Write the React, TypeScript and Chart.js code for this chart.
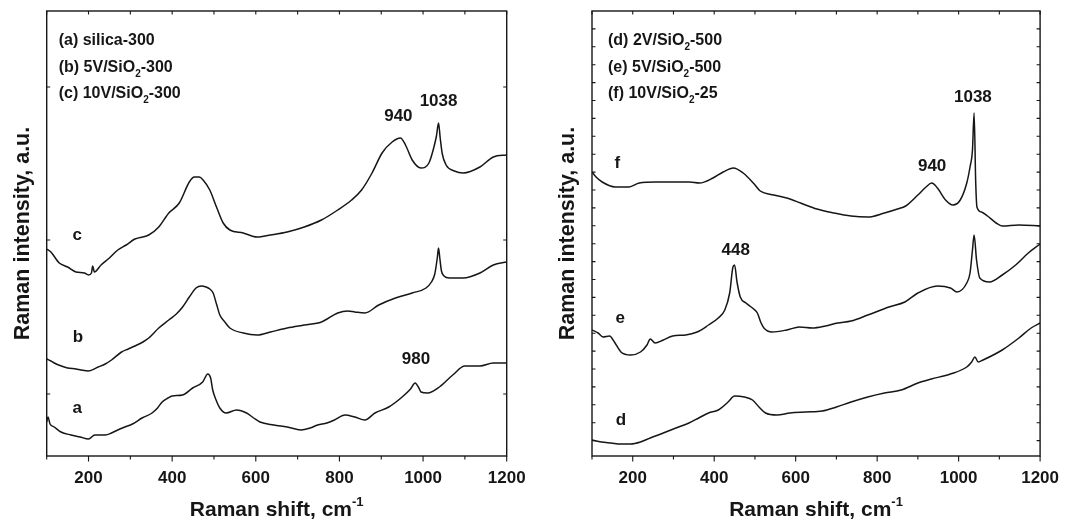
import React, { useEffect, useRef } from "react";
import { Chart, registerables } from "chart.js";

Chart.register(...registerables);

const FONT = '"Liberation Sans", Arial, Helvetica, sans-serif';
const INK = "#161616";

// ---------- Left panel (a, b, c) ----------
const aX = [100, 103, 108, 118, 134, 158, 180, 200, 215, 223, 240, 255, 270, 287, 305, 328, 352, 365, 376, 390, 400, 425, 449, 473, 485, 492, 497, 505, 514, 529, 554, 578, 595, 610, 643, 675, 708, 730, 748, 770, 788, 813, 837, 861, 885, 918, 950, 970, 981, 990, 995, 1011, 1039, 1071, 1100, 1136, 1168, 1200];
const aY = [34, 39, 32, 29, 24, 21, 19, 17, 21, 21, 21, 23, 26, 29, 32, 38, 43, 48, 54, 58, 60, 61, 68, 74, 82, 78, 66, 56, 48, 43, 46, 43, 38, 34, 31, 29, 26, 28, 31, 33, 36, 41, 39, 36, 43, 49, 59, 67, 73, 68, 64, 63, 69, 81, 90, 90, 93, 93];

const bX = [100, 110, 118, 135, 150, 170, 182, 200, 223, 240, 255, 279, 295, 311, 330, 344, 368, 392, 410, 425, 441, 457, 470, 481, 490, 498, 506, 514, 526, 538, 570, 603, 635, 675, 716, 757, 796, 820, 837, 861, 894, 934, 974, 1007, 1020, 1028, 1034, 1037, 1040, 1044, 1050, 1063, 1096, 1136, 1168, 1200];
const bY = [97, 95, 93, 90, 88, 87, 86, 85, 89, 92, 96, 104, 107, 110, 114, 118, 128, 136, 142, 149, 159, 168, 170, 169, 167, 163, 152, 141, 134, 128, 123, 121, 124, 128, 131, 134, 143, 145, 144, 143, 151, 158, 163, 168, 174, 182, 198, 208, 198, 185, 180, 178, 178, 183, 191, 194];

const cX = [100, 110, 130, 150, 170, 190, 200, 207, 210, 214, 230, 250, 270, 290, 311, 344, 368, 392, 417, 441, 453, 465, 474, 490, 506, 522, 538, 570, 603, 635, 675, 716, 757, 796, 829, 853, 878, 902, 926, 946, 958, 974, 995, 1014, 1026, 1032, 1037, 1041, 1046, 1055, 1075, 1096, 1136, 1168, 1200];
const cY = [207, 204, 193, 189, 184, 183, 181, 183, 190, 184, 191, 198, 206, 211, 217, 221, 229, 243, 253, 274, 279, 279, 276, 266, 249, 233, 226, 223, 219, 221, 224, 229, 236, 246, 256, 266, 283, 303, 314, 318, 311, 296, 288, 293, 309, 320, 333, 318, 302, 291, 285, 283, 289, 299, 301];

// ---------- Right panel (d, e, f) ----------
const dX = [100, 123, 147, 171, 195, 219, 243, 275, 306, 338, 362, 386, 410, 434, 450, 474, 494, 510, 526, 554, 586, 625, 665, 700, 736, 777, 818, 859, 900, 933, 980, 1020, 1032, 1040, 1048, 1060, 1107, 1148, 1178, 1200];
const dY = [16, 14, 13, 12, 12, 14, 18, 23, 28, 33, 38, 43, 46, 54, 60, 59, 56, 49, 43, 41, 43, 44, 45, 49, 54, 59, 63, 66, 73, 77, 82, 89, 94, 99, 94, 96, 106, 118, 128, 133];

const eX = [100, 115, 127, 143, 155, 171, 195, 219, 235, 243, 255, 275, 298, 330, 358, 386, 410, 426, 438, 446, 450, 456, 464, 478, 494, 506, 514, 522, 542, 578, 609, 641, 673, 703, 736, 777, 829, 868, 900, 948, 980, 996, 1020, 1028, 1034, 1038, 1044, 1052, 1076, 1107, 1140, 1171, 1200];
const eY = [126, 123, 119, 120, 114, 104, 101, 104, 111, 117, 113, 116, 120, 121, 124, 131, 138, 146, 163, 189, 191, 174, 159, 153, 148, 143, 134, 128, 124, 126, 129, 128, 130, 133, 135, 141, 149, 154, 163, 170, 168, 164, 173, 183, 206, 221, 196, 178, 174, 181, 191, 203, 212];

const fX = [100, 110, 125, 157, 191, 216, 257, 298, 339, 364, 397, 422, 447, 471, 496, 513, 546, 578, 612, 652, 694, 736, 777, 818, 850, 870, 900, 920, 934, 948, 968, 986, 1004, 1020, 1028, 1034, 1038, 1042, 1045, 1056, 1071, 1092, 1107, 1148, 1200];
const fY = [284, 279, 274, 269, 269, 273, 274, 274, 274, 273, 278, 284, 288, 283, 273, 265, 261, 258, 253, 247, 243, 240, 239, 243, 247, 250, 261, 269, 273, 268, 256, 251, 256, 273, 289, 306, 343, 273, 249, 244, 240, 233, 230, 231, 230];

// ---------- Axes ----------
const xMin = 100;
const xMax = 1200;
const xStep = 100;
const yMin = 0;
const yMax = 445;
const leftYTicks = [62, 216, 369];
const rightYTickStart = 15.4;
const rightYTickStep = 17.9;

const yTitle = "Raman intensity, a.u.";
const xTitle = "Raman shift, cm";
const xTitleSup = "-1";

// ---------- Annotations ----------
const leftLegend = [["(a) silica-300"], ["(b) 5V/SiO", "2", "-300"], ["(c) 10V/SiO", "2", "-300"]];
const rightLegend = [["(d) 2V/SiO", "2", "-500"], ["(e) 5V/SiO", "2", "-500"], ["(f) 10V/SiO", "2", "-25"]];

const leftLabelText = ["c", "b", "a", "940", "1038", "980"];
const leftLabelX = [173, 175, 173, 941, 1037, 983];
const leftLabelY = [221, 119, 48, 340, 355, 97];

const rightLabelText = ["f", "e", "d", "448", "940", "1038"];
const rightLabelX = [162, 169, 171, 453, 935, 1035];
const rightLabelY = [293, 138, 36, 206, 290, 359];

type Rich = string[];

function drawRich(ctx: CanvasRenderingContext2D, segs: Rich, x: number, baseY: number, size: number, mode: "sub" | "sup", align: "left" | "center") {
  const big = `bold ${size}px ${FONT}`;
  const small = `bold ${Math.round(size * 0.62)}px ${FONT}`;
  let total = 0;
  segs.forEach((s, i) => {
    ctx.font = i % 2 === 0 ? big : small;
    total += ctx.measureText(s).width;
  });
  let cx = align === "center" ? x - total / 2 : x;
  ctx.textAlign = "left";
  ctx.textBaseline = "alphabetic";
  segs.forEach((s, i) => {
    const isSmall = i % 2 === 1;
    ctx.font = isSmall ? small : big;
    const dy = isSmall ? (mode === "sub" ? size * 0.32 : -size * 0.5) : 0;
    ctx.fillText(s, cx, baseY + dy);
    cx += ctx.measureText(s).width;
  });
}

const decorPlugin = {
  id: "decor",
  afterDatasetsDraw(chart: any, _args: any, opts: any) {
    const { ctx, chartArea: a, scales } = chart;
    const x = scales.x;
    const y = scales.y;
    ctx.save();
    ctx.strokeStyle = INK;
    ctx.lineWidth = 1.4;
    ctx.strokeRect(a.left, a.top, a.right - a.left, a.bottom - a.top);

    ctx.lineWidth = 1.1;
    ctx.beginPath();
    for (const t of x.ticks) {
      const px = x.getPixelForValue(t.value);
      const major = t.value % 200 === 0;
      ctx.moveTo(px, a.bottom);
      ctx.lineTo(px, a.bottom + (major ? 5.5 : 3.5));
      ctx.moveTo(px, a.top);
      ctx.lineTo(px, a.top + 3.5);
    }
    for (const t of y.ticks) {
      const py = y.getPixelForValue(t.value);
      ctx.moveTo(a.left, py);
      ctx.lineTo(a.left + 3.5, py);
      ctx.moveTo(a.right, py);
      ctx.lineTo(a.right - 3.5, py);
    }
    ctx.stroke();

    ctx.fillStyle = INK;
    // y title
    ctx.save();
    ctx.translate(a.left - 24, (a.top + a.bottom) / 2);
    ctx.rotate(-Math.PI / 2);
    ctx.font = `bold 21.5px ${FONT}`;
    ctx.textAlign = "center";
    ctx.textBaseline = "middle";
    ctx.fillText(yTitle, 0, 0);
    ctx.restore();

    // x title
    drawRich(ctx, [xTitle, xTitleSup], (a.left + a.right) / 2, a.bottom + 60, 21, "sup", "center");

    // legend
    const legend: Rich[] = opts.legend;
    const rows = [39, 66, 92];
    legend.forEach((segs, i) => {
      drawRich(ctx, segs, a.left + opts.legendDX, rows[i] + 5.5, 16, "sub", "left");
    });

    // labels
    ctx.font = `bold 17px ${FONT}`;
    ctx.textAlign = "center";
    ctx.textBaseline = "middle";
    const lt: string[] = opts.labelText;
    lt.forEach((t, i) => {
      ctx.fillText(t, x.getPixelForValue(opts.labelX[i]), y.getPixelForValue(opts.labelY[i]));
    });
    ctx.restore();
  },
};

interface PanelProps {
  xs: number[][];
  ys: number[][];
  left: number;
  width: number;
  padLeft: number;
  padRight: number;
  yTicks: number[];
  legend: Rich[];
  legendDX: number;
  labelText: string[];
  labelX: number[];
  labelY: number[];
}

function Panel(p: PanelProps) {
  const ref = useRef<HTMLCanvasElement | null>(null);
  useEffect(() => {
    if (!ref.current) return;
    const chart = new Chart(ref.current, {
      type: "line",
      data: {
        datasets: p.xs.map((xs, k) => ({
          data: xs.map((xv, i) => ({ x: xv, y: p.ys[k][i] })),
          borderColor: INK,
          borderWidth: 1.5,
          pointRadius: 0,
          fill: false,
          cubicInterpolationMode: "monotone" as const,
        })),
      },
      options: {
        animation: false,
        responsive: false,
        maintainAspectRatio: false,
        events: [],
        layout: { padding: { left: p.padLeft, right: p.padRight, top: 11, bottom: 0 } },
        plugins: {
          legend: { display: false },
          tooltip: { enabled: false },
          decor: {
            legend: p.legend,
            legendDX: p.legendDX,
            labelText: p.labelText,
            labelX: p.labelX,
            labelY: p.labelY,
          },
        } as any,
        scales: {
          x: {
            type: "linear",
            min: xMin,
            max: xMax,
            ticks: {
              stepSize: xStep,
              autoSkip: false,
              maxRotation: 0,
              padding: 12,
              color: INK,
              font: { family: FONT, size: 17, weight: "bold" },
              callback: (v: any) => (Number(v) % 200 === 0 ? String(v) : ""),
            },
            grid: { display: false, drawTicks: false },
            border: { display: false },
            afterFit: (s: any) => {
              s.height = 63;
            },
          },
          y: {
            type: "linear",
            min: yMin,
            max: yMax,
            ticks: { display: false },
            grid: { display: false, drawTicks: false },
            border: { display: false },
            afterBuildTicks: (s: any) => {
              s.ticks = p.yTicks.map((v) => ({ value: v }));
            },
            afterFit: (s: any) => {
              s.width = 0;
            },
          },
        },
      } as any,
      plugins: [decorPlugin],
    });
    return () => chart.destroy();
  }, []);
  return (
    <canvas
      ref={ref}
      width={p.width}
      height={519}
      style={{ position: "absolute", left: p.left, top: 0, width: p.width, height: 519 }}
    />
  );
}

export default function App() {
  const rightTicks: number[] = [];
  for (let v = rightYTickStart; v < yMax - 1; v += rightYTickStep) rightTicks.push(v);
  return (
    <div style={{ position: "absolute", left: 0, top: 0, width: 1071, height: 519, background: "#fff", overflow: "hidden" }}>
      <Panel
        xs={[aX, bX, cX]}
        ys={[aY, bY, cY]}
        left={0}
        width={540}
        padLeft={46.7}
        padRight={33.3}
        yTicks={leftYTicks}
        legend={leftLegend}
        legendDX={12}
        labelText={leftLabelText}
        labelX={leftLabelX}
        labelY={leftLabelY}
      />
      <Panel
        xs={[dX, eX, fX]}
        ys={[dY, eY, fY]}
        left={540}
        width={531}
        padLeft={52}
        padRight={19}
        yTicks={rightTicks}
        legend={rightLegend}
        legendDX={16}
        labelText={rightLabelText}
        labelX={rightLabelX}
        labelY={rightLabelY}
      />
    </div>
  );
}
